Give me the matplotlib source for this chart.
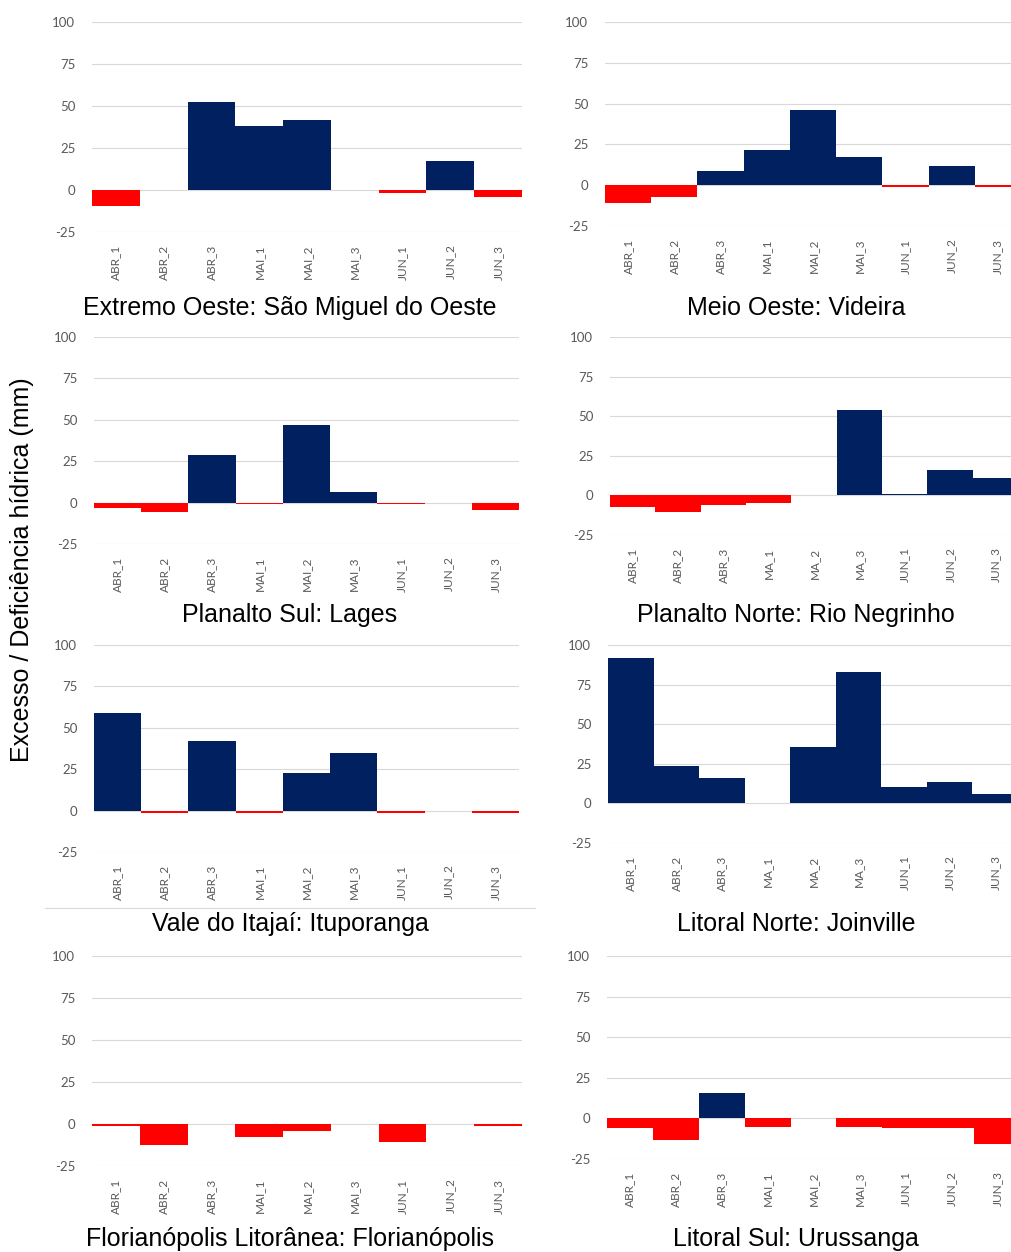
import matplotlib
matplotlib.use("Agg")
import matplotlib.pyplot as plt
from matplotlib.lines import Line2D

W, H = 1012, 1252

cats = ['ABR_1', 'ABR_2', 'ABR_3', 'MAI_1', 'MAI_2', 'MAI_3', 'JUN_1', 'JUN_2', 'JUN_3']
cats_ma = ['ABR_1', 'ABR_2', 'ABR_3', 'MA_1', 'MA_2', 'MA_3', 'JUN_1', 'JUN_2', 'JUN_3']

sao_miguel = [-9.5, 0, 52.4, 38.1, 41.5, 0, -2.0, 17.3, -4.2]
videira = [-11.1, -7.0, 8.5, 21.4, 46.2, 17.5, -1.2, 12.0, -1.2]
lages = [-3.4, -5.8, 29.0, -1.0, 46.8, 6.3, -1.0, 0, -4.2]
rio_negrinho = [-7.1, -10.5, -6.1, -4.6, 0, 54.2, 1.0, 16.2, 11.1]
ituporanga = [59.1, -1.2, 42.1, -1.2, 22.6, 34.9, -1.2, 0, -1.2]
joinville = [91.8, 23.5, 16.1, 0, 35.6, 83.2, 10.5, 13.6, 5.7]
florianopolis = [-1.0, -12.7, 0, -7.9, -4.0, 0, -10.9, 0, -1.0]
urussanga = [-6.2, -13.2, 15.9, -5.4, 0, -5.2, -6.0, -6.0, -15.5]

titles = ['Extremo Oeste: São Miguel do Oeste', 'Meio Oeste: Videira',
          'Planalto Sul: Lages', 'Planalto Norte: Rio Negrinho',
          'Vale do Itajaí: Ituporanga', 'Litoral Norte: Joinville',
          'Florianópolis Litorânea: Florianópolis', 'Litoral Sul: Urussanga']
series = [sao_miguel, videira, lages, rio_negrinho, ituporanga, joinville, florianopolis, urussanga]
labels = [cats, cats, cats, cats_ma, cats, cats_ma, cats, cats]

yticks = [-25, 0, 25, 50, 75, 100]

# panel boxes in pixels: left, right, top(100), bottom(-25)
boxes = [
    (92, 522, 22, 232),
    (605, 1021, 22, 226),
    (94, 519, 337, 544),
    (610, 1018, 337, 535),
    (94, 519, 645, 852),
    (608, 1018, 645, 843),
    (92, 522, 956, 1166),
    (607, 1020, 956, 1159),
]
title_pos = [(290, 315), (796, 315), (290, 622), (796, 622),
             (290, 931), (796, 931), (290, 1246), (796, 1246)]

NAVY = '#002060'
RED = '#FF0000'
GRID = '#D9D9D9'
TICK = '#595959'

fig = plt.figure(figsize=(W / 100, H / 100), dpi=100)
fig.patch.set_facecolor('white')

for vals, labs, box, title, tp in zip(series, labels, boxes, titles, title_pos):
    l, r, t, b = box
    ax = fig.add_axes([l / W, 1 - b / H, (r - l) / W, (b - t) / H])
    x = list(range(len(labs)))
    colors = [NAVY if v >= 0 else RED for v in vals]
    ax.bar(x, vals, width=1.0, color=colors, zorder=3, linewidth=0)
    ax.set_xlim(-0.5, len(labs) - 0.5)
    ax.set_ylim(-25, 100)
    ax.set_yticks(yticks)
    ax.set_yticklabels([str(v) for v in yticks], fontfamily='Lato', fontsize=9.5, color=TICK)
    ax.set_xticks(x)
    ax.set_xticklabels(labs, rotation=90, fontfamily='Lato', fontsize=8.5, color=TICK, va='top')
    ax.tick_params(axis='y', length=0, pad=12)
    ax.tick_params(axis='x', length=0, pad=9)
    for s in ax.spines.values():
        s.set_visible(False)
    ax.grid(axis='y', color=GRID, linewidth=0.8, zorder=0)
    ax.set_axisbelow(True)
    ax.patch.set_alpha(0)
    fig.text(tp[0] / W, 1 - tp[1] / H, title, ha='center', va='baseline',
             fontfamily='Liberation Sans', fontsize=18, color='black')

fig.text(22 / W, 1 - 570 / H, 'Excesso / Deficiência hídrica (mm)', rotation=90,
         ha='center', va='center', fontfamily='Liberation Sans', fontsize=18, color='black')

fig.add_artist(Line2D([45 / W, 535 / W], [1 - 908 / H, 1 - 908 / H],
                      transform=fig.transFigure, color=GRID, linewidth=0.8))

fig.savefig('out.png', dpi=100, facecolor='white')
